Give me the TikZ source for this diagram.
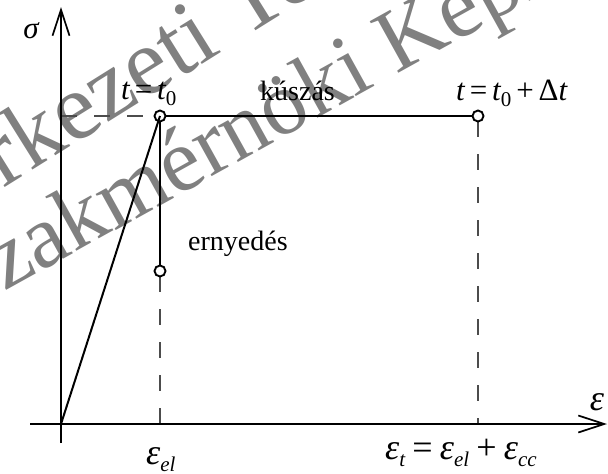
\documentclass[tikz,border=0pt]{standalone}
\usepackage{fontspec}
\setmainfont{Liberation Serif}
\usetikzlibrary{arrows.meta}
\newcommand\lowsub[1]{\raisebox{-0.2em}{\fontsize{21}{21}\selectfont #1}}
\newcommand\rel[1]{\hspace{0.16em}{#1}\hspace{0.16em}}
\newcommand\erel[1]{\hspace{0.2em}{#1}\hspace{0.2em}}
\begin{document}
\begin{tikzpicture}[x=1pt,y=-1pt,
  axis/.style={line width=1.9pt,-{Straight Barb[length=26pt,width=17pt,line width=1.7pt]}},
  solid line/.style={line width=2pt},
  guide/.style={line width=1.3pt,black!70,dash pattern=on 16pt off 17pt},
  dot/.style={circle,draw,line width=1.9pt,fill=white,minimum size=11pt,inner sep=0pt},
  lab/.style={font=\fontsize{28}{30}\selectfont,inner sep=0pt},
  tlab/.style={font=\fontsize{31}{33}\selectfont\itshape,inner sep=0pt},
  elab/.style={font=\fontsize{36}{38}\selectfont\itshape,inner sep=0pt},
  wm/.style={text=black!50,inner sep=0pt,anchor=base west}]
\useasboundingbox (0,0) rectangle (608,474);
% watermark
\begin{scope}
\clip (0,0) rectangle (608,474);
\node[wm,rotate=32,font=\fontsize{95}{95}\selectfont] (wm1) at (-268,358) {Tartószerkezeti Tervező};
\node[wm,rotate=29,font=\fontsize{90}{90}\selectfont] (wm2) at (-39,316) {Szakmérnöki Képzés};
\end{scope}
% coordinates
\coordinate (O) at (61,424);
\coordinate (ytop) at (61,7);
\coordinate (ybot) at (61,443);
\coordinate (xleft) at (30,424);
\coordinate (xright) at (607,424);
\coordinate (yA) at (61,116);
\coordinate (xA) at (160,424);
\coordinate (xB) at (478,424);
% dashed guides
\draw[guide] (yA) -- (160,116);
\draw[guide] (160,276) -- (xA);
\draw[guide] (478,121) -- (xB);
% axes
\draw[axis] (ybot) -- (ytop);
\draw[axis] (xleft) -- (xright);
% curves
\node[dot] (A) at (160,116) {};
\node[dot] (B) at (478,116) {};
\node[dot] (C) at (160,271) {};
\draw[solid line] (O) -- (A.center);
\draw[solid line] (A) -- (B);
\draw[solid line] (A) -- (C);
% labels
\node[tlab,anchor=base] (sig) at (31,38) {σ};
\node[tlab,anchor=base west] (lt0) at (121,99) {t\rel{\upshape =}t\lowsub{\upshape 0}};
\node[lab,anchor=base west] (lcreep) at (260,100) {kúszás};
\node[tlab,anchor=base west] (lt1) at (456,100) {t\rel{\upshape =}t\lowsub{\upshape 0}\rel{\upshape +}{\upshape Δ}t};
\node[lab,anchor=base west] (lrelax) at (188,250) {ernyedés};
\node[elab,anchor=base] (leps) at (597,410) {ε};
\node[elab,anchor=base west] (lel) at (146,464) {ε\lowsub{el}};
\node[elab,anchor=base west] (ltot) at (385,459) {ε\lowsub{t}\erel{\upshape =}ε\lowsub{el}\erel{\upshape +}ε\lowsub{cc}};
\end{tikzpicture}
\end{document}
